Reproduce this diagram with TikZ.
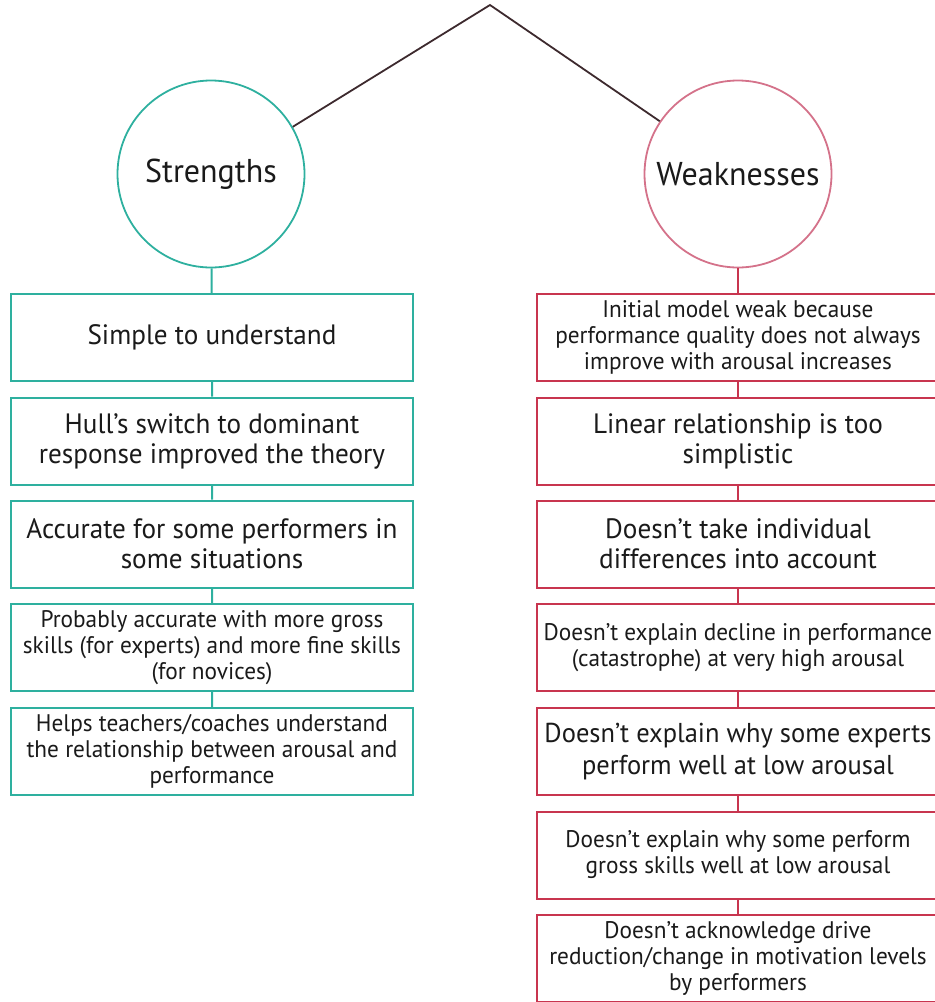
\documentclass[tikz,border=0pt]{standalone}
\usepackage{fontspec}
\setmainfont{PT Sans}[FakeStretch=0.97]
\definecolor{teal}{HTML}{2EB09F}
\definecolor{rose}{HTML}{D4728A}
\definecolor{crimson}{HTML}{C8354F}
\definecolor{ink}{HTML}{3D2A2E}
\definecolor{txt}{HTML}{1A1A1A}
\tikzset{
  every node/.style={text=txt},
  hub/.style={circle, draw, line width=1.8pt, minimum size=187pt, inner sep=0pt,
    font=\fontsize{33}{38}\selectfont},
  pro/.style={draw=teal, line width=2pt, minimum width=402pt, minimum height=87pt,
    inner sep=0pt, align=center},
  con/.style={draw=crimson, line width=2pt, minimum width=402pt, minimum height=87pt,
    inner sep=0pt, align=center},
  big/.style={font=\fontsize{28}{30}\selectfont},
  small/.style={font=\fontsize{24}{26}\selectfont},
  huge/.style={font=\fontsize{27.3}{32}\selectfont},
  link/.style={line width=2pt},
}
\begin{document}
\begin{tikzpicture}[x=1pt,y=-1pt]
\useasboundingbox (0,0) rectangle (935,1002);
% root and the two branches
\coordinate (top) at (490,5);
\node[hub, draw=teal] (S) at (211,174) {Strengths};
\node[hub, draw=rose] (W) at (738,174) {Weaknesses};
\draw[ink, line width=1.8pt, line join=miter] (S.30) -- (top) -- (W.146);

% strengths column
\node[pro, big]   (s1) at (212,337.5) {Simple to understand};
\node[pro, big]   (s2) at (212,441)   {Hull’s switch to dominant\\response improved the theory};
\node[pro, big]   (s3) at (212,544)   {Accurate for some performers in\\some situations};
\node[pro, small] (s4) at (212,647.5) {Probably accurate with more gross\\skills (for experts) and more fine skills\\(for novices)};
\node[pro, small] (s5) at (212,751.5) {Helps teachers/coaches understand\\the relationship between arousal and\\performance};
\draw[teal, link] (S) -- (s1) (s1) -- (s2) (s2) -- (s3) (s3) -- (s4) (s4) -- (s5);

% weaknesses column
\node[con, small] (w1) at (738,337.5) {Initial model weak because\\performance quality does not always\\improve with arousal increases};
\node[con, big]   (w2) at (738,441)   {Linear relationship is too\\simplistic};
\node[con, big]   (w3) at (738,544)   {Doesn’t take individual\\differences into account};
\node[con, small] (w4) at (738,647.5) {Doesn’t explain decline in performance\\(catastrophe) at very high arousal};
\node[con, huge]  (w5) at (738,751.5) {Doesn’t explain why some experts\\perform well at low arousal};
\node[con, small] (w6) at (738,855)   {Doesn’t explain why some perform\\gross skills well at low arousal};
\node[con, small] (w7) at (738,958)   {Doesn’t acknowledge drive\\reduction/change in motivation levels\\by performers};
\draw[crimson, link] (W) -- (w1) (w1) -- (w2) (w2) -- (w3) (w3) -- (w4) (w4) -- (w5) (w5) -- (w6) (w6) -- (w7);
\end{tikzpicture}
\end{document}
